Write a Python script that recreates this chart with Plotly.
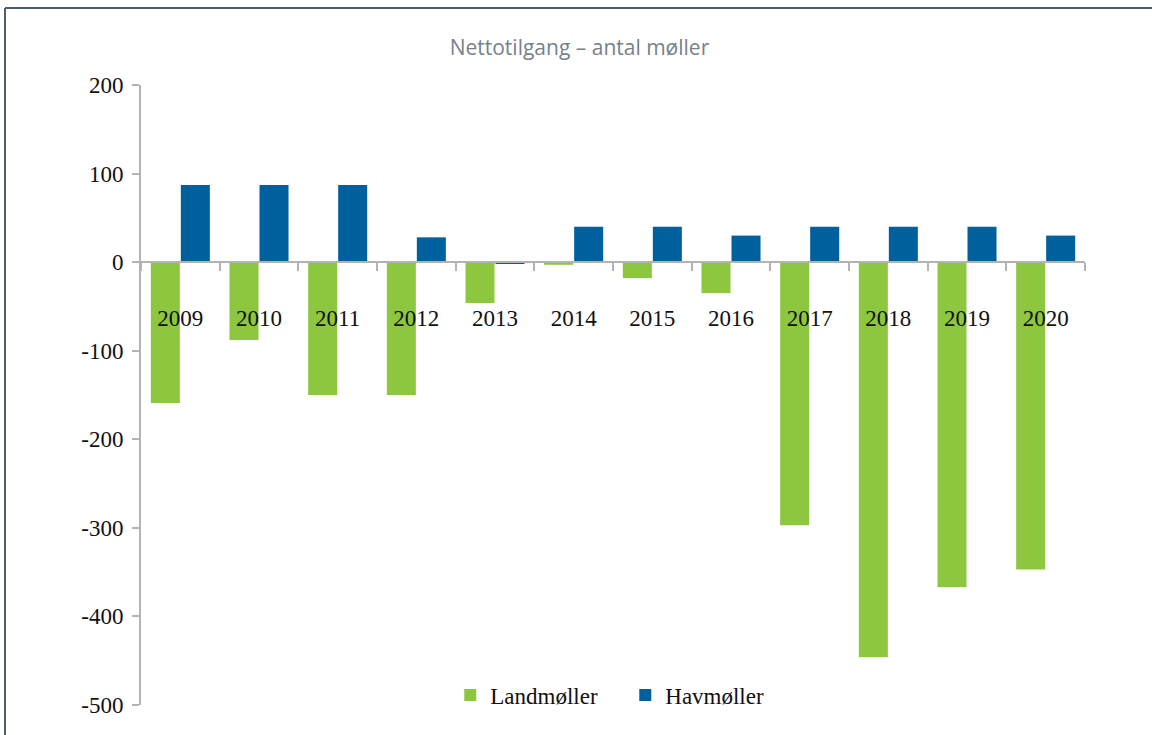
import plotly.graph_objects as go

years = ["2009", "2010", "2011", "2012", "2013", "2014", "2015", "2016", "2017", "2018", "2019", "2020"]
landmoller = [-159, -88, -150, -150, -46, -3, -18, -35, -297, -446, -367, -347]
havmoller = [87, 87, 87, 28, -1, 40, 40, 30, 40, 40, 40, 30]
y_ticks = [200, 100, 0, -100, -200, -300, -400, -500]

GREEN = "#8dc63f"
BLUE = "#00609e"
AXIS = "#b3b3b3"
SERIF = "Liberation Serif, Times New Roman, serif"

fig = go.Figure()
fig.add_trace(go.Bar(name="Landmøller", x=years, y=landmoller, marker_color=GREEN,
                     marker_line_width=0))
fig.add_trace(go.Bar(name="Havmøller", x=years, y=havmoller, marker_color=BLUE,
                     marker_line_width=0))

zero_pos = 500 / 700

fig.update_layout(
    width=1152, height=735,
    margin=dict(l=141, r=67, t=85, b=30),
    paper_bgcolor="white", plot_bgcolor="white",
    barmode="group", bargap=0.237, bargroupgap=0.033,
    title=dict(text="Nettotilgang – antal møller", x=0.503, xanchor="center",
               y=1 - 48 / 735, yanchor="middle",
               font=dict(family="Open Sans", size=21, color="#75818b")),
    showlegend=True,
    legend=dict(orientation="h", x=0.513, xanchor="center", y=0.016, yanchor="middle",
                font=dict(family=SERIF, size=23, color="#111111"),
                bgcolor="rgba(0,0,0,0)", itemwidth=30, tracegroupgap=0,
                entrywidth=130),
    xaxis=dict(type="category", anchor="free", position=zero_pos,
               showline=True, linecolor=AXIS, linewidth=2,
               ticks="outside", ticklen=8, tickcolor=AXIS, tickwidth=2,
               tickson="boundaries", showgrid=False, zeroline=False,
               ticklabelstandoff=35,
               tickfont=dict(family=SERIF, size=23, color="#111111")),
    xaxis2=dict(overlaying="x", anchor="free", position=zero_pos,
                range=[-0.5, 11.5], tickvals=[i - 0.5 for i in range(13)],
                ticks="inside", ticklen=7, tickcolor=AXIS, tickwidth=2,
                showticklabels=False, showgrid=False, zeroline=False, showline=False),
    yaxis=dict(range=[-500, 200], tickvals=y_ticks, ticktext=[str(v) for v in y_ticks],
               showline=True, linecolor=AXIS, linewidth=2,
               ticks="outside", ticklen=7, tickcolor=AXIS, tickwidth=2,
               showgrid=False, zeroline=False, ticklabelstandoff=4,
               tickfont=dict(family=SERIF, size=23, color="#111111")),
)

# Frame lines (top and left) as in the reference
x0 = (5 - 141) / 944
y_top = (705 - 8) / 620
fig.add_shape(type="line", xref="paper", yref="paper", x0=x0, x1=(1152 - 141) / 944,
              y0=y_top, y1=y_top, line=dict(color="#4f5d68", width=2))
fig.add_shape(type="line", xref="paper", yref="paper", x0=x0, x1=x0,
              y0=y_top, y1=(705 - 740) / 620, line=dict(color="#4f5d68", width=2))

fig.write_html("out.html", config={"displayModeBar": False},
               post_script="document.body.style.margin='0';document.body.style.overflow='hidden';")
